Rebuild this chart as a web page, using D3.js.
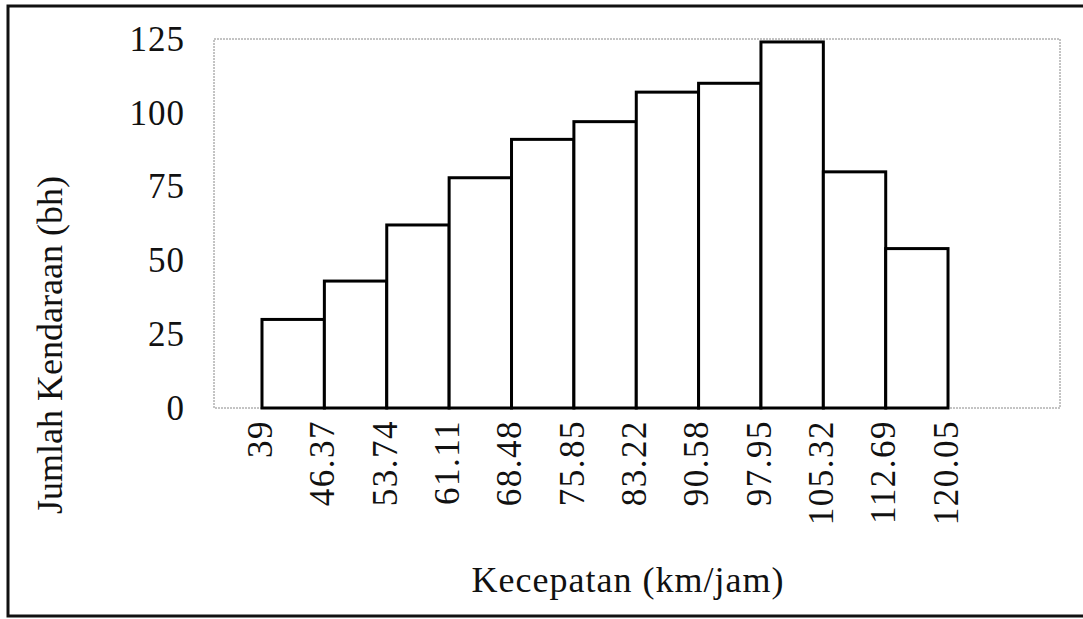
<!DOCTYPE html>
<html>
<head>
<meta charset="utf-8">
<script src="https://cdn.jsdelivr.net/npm/d3@7"></script>
<style>
  body { margin: 0; background: #fff; }
  svg { display: block; }
  text { font-family: "Liberation Serif", "Times New Roman", serif; fill: #111; }
</style>
</head>
<body>
<svg width="1083" height="619"></svg>
<script>
// bin edges (km/jam) as printed under the bars
const binEdges = ["39", "46.37", "53.74", "61.11", "68.48", "75.85", "83.22", "90.58", "97.95", "105.32", "112.69", "120.05"];
// vehicle counts per bin
const counts = [30, 43, 62, 78, 91, 97, 107, 110, 124, 80, 54];
const yTicks = [0, 25, 50, 75, 100, 125];

const svg = d3.select("svg");
const plot = { left: 214, top: 39, right: 1060, bottom: 408 };

// outer frame (right side runs off the page)
svg.append("rect")
  .attr("x", 8).attr("y", 6)
  .attr("width", 1090).attr("height", 610)
  .attr("fill", "none")
  .attr("stroke", "#111")
  .attr("stroke-width", 3);

const x = d3.scaleLinear()
  .domain([33.33, 133.28])
  .range([plot.left, plot.right]);

const y = d3.scaleLinear()
  .domain([0, 125])
  .range([plot.bottom, plot.top]);

// plot area border, thin grey dotted
svg.append("rect")
  .attr("x", plot.left).attr("y", plot.top)
  .attr("width", plot.right - plot.left)
  .attr("height", plot.bottom - plot.top)
  .attr("fill", "none")
  .attr("stroke", "#888")
  .attr("stroke-width", 1)
  .attr("stroke-dasharray", "2,1");

const bins = counts.map((c, i) => ({
  x0: +binEdges[i],
  x1: +binEdges[i + 1],
  count: c
}));

svg.append("g")
  .selectAll("rect")
  .data(bins)
  .enter().append("rect")
  .attr("x", d => x(d.x0))
  .attr("y", d => y(d.count))
  .attr("width", d => x(d.x1) - x(d.x0))
  .attr("height", d => y(0) - y(d.count))
  .attr("fill", "#fff")
  .attr("stroke", "#000")
  .attr("stroke-width", 3);

// y axis labels (no tick marks in the original)
const yAxis = svg.append("g")
  .attr("transform", `translate(${plot.left},0)`)
  .call(d3.axisLeft(y).tickValues(yTicks).tickSize(0).tickPadding(29));
yAxis.select(".domain").remove();
yAxis.selectAll("text")
  .attr("font-size", 35)
  .attr("font-family", "Liberation Serif")
  .attr("letter-spacing", 1)
  .attr("fill", "#111");

// x labels at the bin edges, rotated
const xAxis = svg.append("g")
  .attr("transform", `translate(0,${plot.bottom})`)
  .call(d3.axisBottom(x).tickValues(binEdges.map(Number))
    .tickFormat((d, i) => binEdges[i]).tickSize(0));
xAxis.select(".domain").remove();
xAxis.selectAll("text")
  .attr("font-size", 35)
  .attr("font-family", "Liberation Serif")
  .attr("letter-spacing", 1.5)
  .attr("fill", "#111")
  .attr("text-anchor", "end")
  .attr("transform", "rotate(-90)")
  .attr("x", -12)
  .attr("y", -3)
  .attr("dy", "0.35em");

// axis titles
svg.append("text")
  .attr("x", 628).attr("y", 592)
  .attr("text-anchor", "middle")
  .attr("font-size", 36)
  .attr("letter-spacing", 1)
  .text("Kecepatan (km/jam)");

svg.append("text")
  .attr("transform", "translate(62,345) rotate(-90)")
  .attr("text-anchor", "middle")
  .attr("font-size", 36)
  .text("Jumlah Kendaraan (bh)");
</script>
</body>
</html>
